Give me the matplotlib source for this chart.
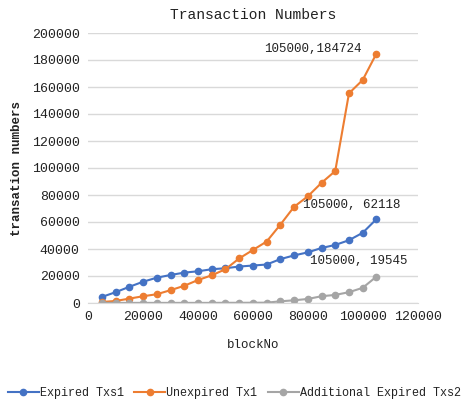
import matplotlib.pyplot as plt

plt.rcParams['font.family'] = ['Liberation Mono', 'DejaVu Sans Mono']

block_no = [5000, 10000, 15000, 20000, 25000, 30000, 35000, 40000, 45000, 50000,
            55000, 60000, 65000, 70000, 75000, 80000, 85000, 90000, 95000, 100000, 105000]
expired_txs1 = [4500, 8000, 12000, 15750, 18750, 20750, 22500, 23500, 25000, 25750,
                27000, 27750, 28500, 32500, 35250, 37500, 40750, 43000, 46500, 52000, 62118]
unexpired_tx1 = [750, 1500, 3250, 5000, 6500, 9500, 12750, 17000, 20500, 25000,
                 33000, 39250, 45500, 58000, 71250, 79000, 89000, 97750, 155300, 165200, 184724]
additional_txs2 = [100, 100, 100, 100, 100, 100, 100, 100, 100, 150,
                   150, 200, 250, 1250, 2000, 3000, 5000, 6000, 8000, 11250, 19545]

series = [
    ('Expired Txs1', expired_txs1, '#4472C4'),
    ('Unexpired Tx1', unexpired_tx1, '#ED7D31'),
    ('Additional Expired Txs2', additional_txs2, '#A5A5A5'),
]

fig = plt.figure(figsize=(4.64, 4.0), dpi=100)
ax = fig.add_axes([0.19, 0.2425, 0.71, 0.675])

for name, vals, color in series:
    ax.plot(block_no, vals, marker='o', markersize=4.5, linewidth=1.5,
            color=color, label=name)

# data labels on the last points
ax.annotate('105000,184724', (block_no[-1], unexpired_tx1[-1]), xytext=(-46, 3),
            textcoords='offset points', ha='center', va='center', fontsize=9, color='#222222')
ax.annotate('105000, 62118', (block_no[-1], expired_txs1[-1]), xytext=(-18, 10),
            textcoords='offset points', ha='center', va='center', fontsize=9, color='#222222')
ax.annotate('105000, 19545', (block_no[-1], additional_txs2[-1]), xytext=(-13, 11),
            textcoords='offset points', ha='center', va='center', fontsize=9, color='#222222')

ax.set_xlim(0, 120000)
ax.set_ylim(0, 200000)
ax.set_xticks(range(0, 120001, 20000))
ax.set_yticks(range(0, 200001, 20000))
ax.tick_params(length=0, labelsize=9.5, pad=6, labelcolor='#222222')
ax.grid(axis='y', color='#D9D9D9', linewidth=1)
ax.set_axisbelow(True)
for s in ['top', 'right', 'left']:
    ax.spines[s].set_visible(False)
ax.spines['bottom'].set_color('#D9D9D9')

ax.set_title('Transaction Numbers', fontsize=10.5, pad=10, color='#222222')
ax.set_xlabel('blockNo', fontsize=9, labelpad=11, color='#222222')
ax.set_ylabel('transation numbers', fontsize=9, fontweight='bold', labelpad=6, color='#222222')

fig.legend(loc='lower center', bbox_to_anchor=(0.505, -0.025), ncol=3, frameon=False,
           fontsize=8.5, handlelength=2.6, handletextpad=0.1, columnspacing=0.9,
           labelcolor='#222222')

fig.savefig('out.png', dpi=100)
